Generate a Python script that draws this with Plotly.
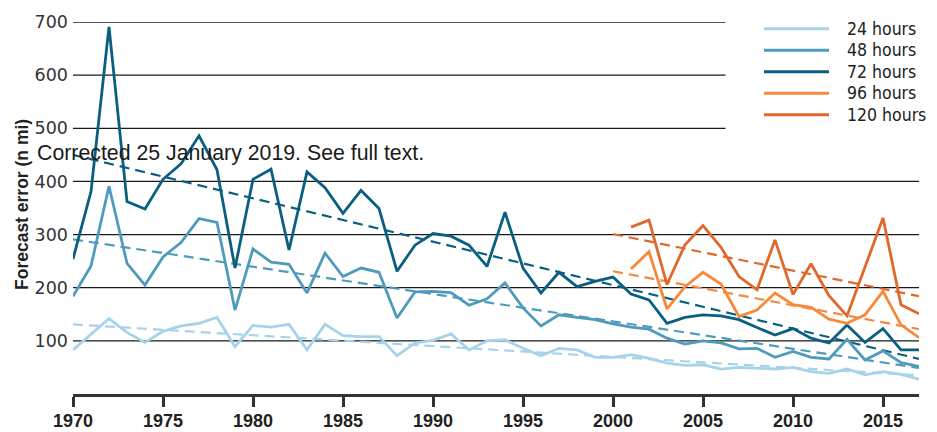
import plotly.graph_objects as go

years = list(range(1970, 2018))
years_ext = list(range(2001, 2018))

err_24 = [83, 113, 142, 116, 97, 118, 128, 133, 144, 89,
          129, 126, 131, 83, 131, 110, 108, 108, 72, 96,
          101, 113, 83, 100, 102, 86, 72, 86, 83, 69,
          69, 74, 67, 58, 54, 55, 47, 50, 48, 47,
          50, 42, 39, 47, 36, 42, 37, 28]
err_48 = [184, 241, 391, 246, 205, 258, 285, 330, 323, 158,
          273, 248, 244, 190, 265, 221, 237, 229, 143, 192,
          193, 191, 167, 179, 209, 162, 128, 149, 144, 140,
          132, 126, 122, 105, 94, 100, 96, 85, 86, 69,
          80, 69, 66, 103, 64, 81, 59, 52]
err_72 = [254, 381, 691, 362, 348, 404, 433, 486, 422, 237,
          404, 423, 271, 418, 388, 340, 383, 349, 231, 280,
          302, 297, 280, 240, 342, 237, 190, 229, 202, 212,
          220, 188, 177, 133, 144, 149, 147, 140, 125, 111,
          123, 105, 96, 130, 97, 123, 83, 83]
err_96 = [235, 268, 160, 202, 229, 207, 146, 158, 190, 168,
          163, 141, 133, 149, 193, 130, 106]
err_120 = [314, 327, 206, 281, 317, 276, 221, 196, 290, 187,
           245, 185, 147, 240, 331, 168, 151]

# trend-line end points
trend_years_long = [1970, 2017]
trend_years_short = [2000, 2017]
trend_24 = [131, 35]
trend_48 = [291, 49]
trend_72 = [450, 66]
trend_96 = [231, 122]
trend_120 = [301, 184]

labels = ["24 hours", "48 hours", "72 hours", "96 hours", "120 hours"]
colors = ["#a6d3ea", "#4f9bbb", "#0a5f80", "#f7893a", "#e0682a"]

y_ticks = [100, 200, 300, 400, 500, 600, 700]
x_ticks = [1970, 1975, 1980, 1985, 1990, 1995, 2000, 2005, 2010, 2015]

series = [
    (years, err_24, trend_years_long, trend_24),
    (years, err_48, trend_years_long, trend_48),
    (years, err_72, trend_years_long, trend_72),
    (years_ext, err_96, trend_years_short, trend_96),
    (years_ext, err_120, trend_years_short, trend_120),
]

fig = go.Figure()
for (xs, ys, tx, ty), name, col in zip(series, labels, colors):
    fig.add_trace(go.Scatter(x=tx, y=ty, mode="lines", showlegend=False,
                             line=dict(color=col, width=2.2, dash="10px,6px"),
                             hoverinfo="skip"))
for (xs, ys, tx, ty), name, col in zip(series, labels, colors):
    fig.add_trace(go.Scatter(x=xs, y=ys, mode="lines", name=name, showlegend=False,
                             line=dict(color=col, width=2.8)))

W, H = 937, 432
ML, MR, MT, MB = 73, 18, 22, 38
pw, ph = W - ML - MR, H - MT - MB


def px(xp):
    return (xp - ML) / pw


def py(yp):
    return (H - MB - yp) / ph


shapes = []
for v in y_ticks:
    x1 = 2017 if v <= 400 else 2006.25
    shapes.append(dict(type="line", xref="x", yref="y", x0=1970, x1=x1, y0=v, y1=v,
                       line=dict(color="#1a1a1a", width=1.3), layer="below"))

annotations = []
leg_rows = [28.7, 50.2, 71.7, 93.2, 114.7]
for name, col, yr in zip(labels, colors, leg_rows):
    shapes.append(dict(type="line", xref="paper", yref="paper",
                       x0=px(764), x1=px(829), y0=py(yr), y1=py(yr),
                       line=dict(color=col, width=3)))
    annotations.append(dict(xref="paper", yref="paper", x=px(845), y=py(yr),
                            text=name, showarrow=False, xanchor="left", yanchor="middle",
                            font=dict(family="DejaVu Sans Condensed, sans-serif",
                                      size=17.5, color="#222")))

annotations.append(dict(xref="paper", yref="paper", x=0, xshift=-51, y=py(205),
                        text="<b>Forecast error (n mi)</b>", textangle=-90, showarrow=False,
                        xanchor="center", yanchor="middle",
                        font=dict(family="Liberation Sans, Arial, sans-serif", size=17.5, color="#222")))
annotations.append(dict(xref="paper", yref="paper", x=px(35), y=py(153),
                        text="Corrected 25 January 2019. See full text.", showarrow=False,
                        xanchor="left", yanchor="middle",
                        font=dict(family="Liberation Sans, Arial, sans-serif", size=21.3, color="#1a1a1a")))

fig.update_layout(
    width=W, height=H,
    margin=dict(l=ML, r=MR, t=MT, b=MB, pad=0, autoexpand=False),
    plot_bgcolor="white", paper_bgcolor="white",
    showlegend=False,
    shapes=shapes, annotations=annotations,
    xaxis=dict(range=[1970, 2017], tickvals=x_ticks, showgrid=False, zeroline=False,
               automargin=False,
               showline=True, linecolor="#333", linewidth=2.5,
               ticks="outside", ticklen=10, tickwidth=2.5, tickcolor="#333",
               ticklabelstandoff=-1,
               tickfont=dict(family="Liberation Sans, Arial, sans-serif", size=18,
                             color="#222", weight="bold")),
    yaxis=dict(range=[0, 700], tickvals=y_ticks, showgrid=False, zeroline=False,
               automargin=False,
               showline=False, ticks="", ticklabelstandoff=4,
               tickfont=dict(family="DejaVu Sans, sans-serif", size=17.5, color="#333")),
)

fig.write_html("out.html", config={"displayModeBar": False},
               post_script="document.body.style.margin='0';")
